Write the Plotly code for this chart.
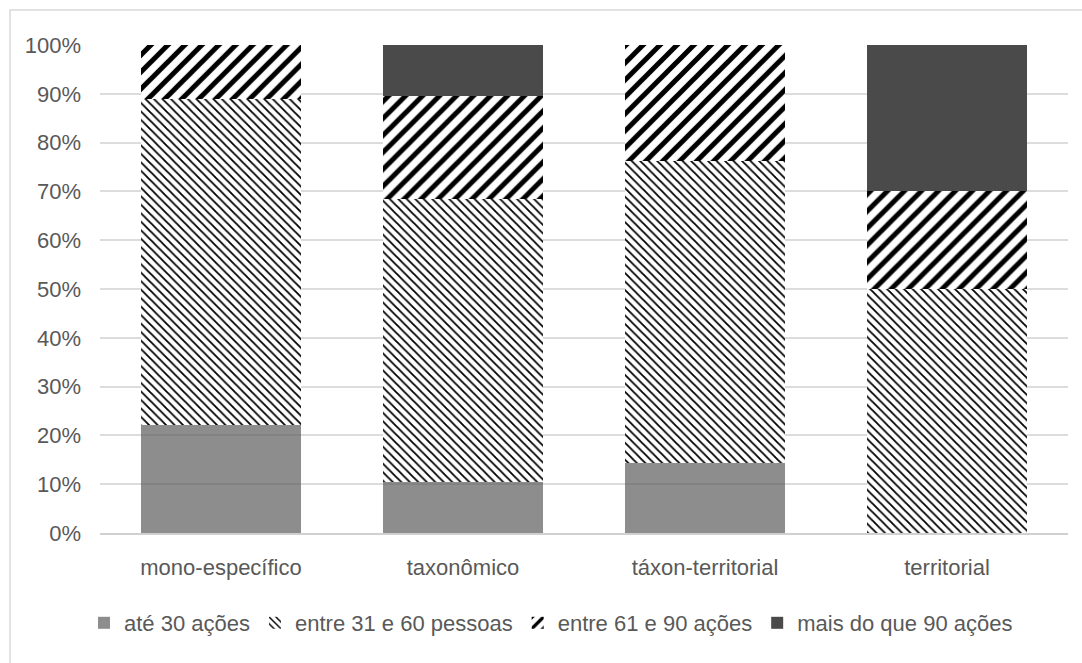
import plotly.graph_objects as go

categorias = ["mono-específico", "taxonômico", "táxon-territorial", "territorial"]

ate_30 = [22.2, 10.5, 14.3, 0.0]
entre_31_60 = [66.7, 57.9, 61.9, 50.0]
entre_61_90 = [11.1, 21.1, 23.8, 20.0]
mais_90 = [0.0, 10.5, 0.0, 30.0]

nomes = ["até 30 ações", "entre 31 e 60 pessoas", "entre 61 e 90 ações", "mais do que 90 ações"]

W, H = 1082, 663
L, R, T, B = 100, 14, 45, 130
pw, ph = W - L - R, H - T - B

texto = "#595959"
fonte = "Liberation Sans, Arial, sans-serif"

fig = go.Figure()

fig.add_trace(go.Bar(
    x=categorias, y=ate_30, name=nomes[0],
    marker=dict(color="rgba(87,87,87,0.68)", line=dict(width=0)),
))
fig.add_trace(go.Bar(
    x=categorias, y=entre_31_60, name=nomes[1],
    marker=dict(color="white", line=dict(width=0),
                pattern=dict(shape="\\", size=6, solidity=0.3, fillmode="replace",
                             fgcolor="#000000", fgopacity=1, bgcolor="white")),
))
fig.add_trace(go.Bar(
    x=categorias, y=entre_61_90, name=nomes[2],
    marker=dict(color="white", line=dict(width=0),
                pattern=dict(shape="/", size=12, solidity=0.42, fillmode="replace",
                             fgcolor="#000000", fgopacity=1, bgcolor="white")),
))
fig.add_trace(go.Bar(
    x=categorias, y=mais_90, name=nomes[3],
    marker=dict(color="#4a4a4a", line=dict(width=0)),
))

# outer chart border (right/bottom edges fall outside the page)
def px_x(v):
    return (v - L) / pw

def px_y(v):
    return (H - B - v) / ph

fig.add_shape(type="rect", xref="paper", yref="paper",
              x0=px_x(10), x1=px_x(1095), y0=px_y(10), y1=px_y(680),
              line=dict(color="#d9d9d9", width=1.5), fillcolor="rgba(0,0,0,0)",
              layer="below")

fig.update_layout(
    width=W, height=H,
    margin=dict(l=L, r=R, t=T, b=B, pad=0),
    barmode="stack", bargap=0.335,
    plot_bgcolor="white", paper_bgcolor="white",
    font=dict(family=fonte, size=22, color=texto),
    showlegend=True,
    legend=dict(orientation="h", x=px_x(84), xanchor="left",
                y=px_y(623), yanchor="middle",
                font=dict(size=22, color=texto),
                traceorder="normal", itemclick=False,
                bgcolor="rgba(0,0,0,0)", tracegroupgap=0),
    xaxis=dict(showgrid=False, showline=True, linecolor="#d0d0d0", linewidth=2,
               ticks="", ticklabelstandoff=14, zeroline=False),
    yaxis=dict(range=[0, 100], dtick=10, ticksuffix="%",
               showgrid=True, gridcolor="#dcdcdc", gridwidth=1.5,
               zeroline=False, showline=False, ticks="",
               ticklabelstandoff=18),
)

fig.write_html("out.html")
